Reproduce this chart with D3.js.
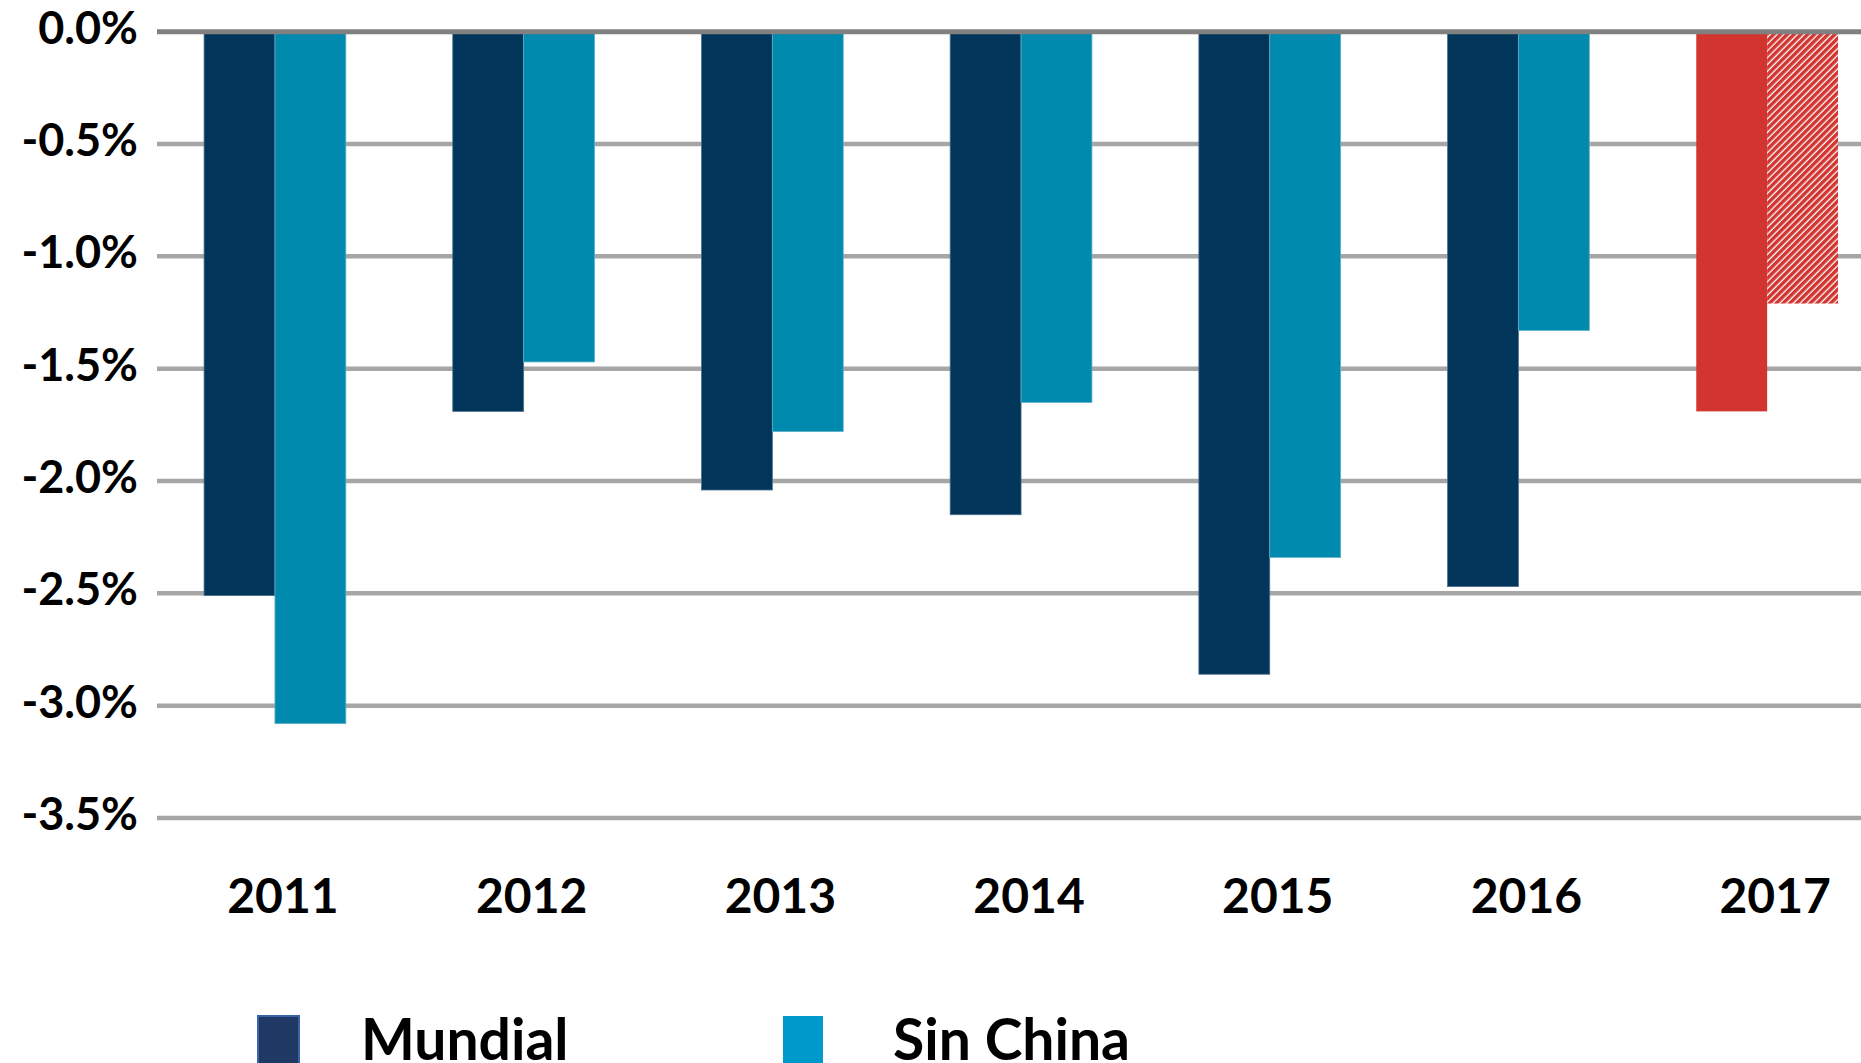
<!DOCTYPE html>
<html>
<head>
<meta charset="utf-8">
<script src="https://cdn.jsdelivr.net/npm/d3@7"></script>
<style>
  body { margin: 0; background: #fff; }
  text { font-family: Lato, "Open Sans", sans-serif; font-weight: bold; fill: #000; }
</style>
</head>
<body>
<div class="chart"></div>
<script>
var years = ['2011', '2012', '2013', '2014', '2015', '2016', '2017'];
var mundial = [-2.51, -1.69, -2.04, -2.15, -2.86, -2.47, -1.69];
var sinChina = [-3.08, -1.47, -1.78, -1.65, -2.34, -1.33, -1.21];
var yTicks = [0, -0.5, -1, -1.5, -2, -2.5, -3, -3.5];
var seriesNames = ['Mundial', 'Sin China'];

var width = 1861;
var height = 1063;
var svg = d3.select('.chart').append('svg').attr('width', width).attr('height', height);

// hatch for the 2017 "Sin China" estimate
var defs = svg.append('defs');
var hatch = defs.append('pattern')
  .attr('id', 'hatch')
  .attr('patternUnits', 'userSpaceOnUse')
  .attr('width', 4.8).attr('height', 4.8)
  .attr('patternTransform', 'rotate(45)');
hatch.append('rect').attr('width', 4.8).attr('height', 4.8).attr('fill', '#fff');
hatch.append('rect').attr('width', 3.5).attr('height', 4.8).attr('fill', '#d2342f');

var y = d3.scaleLinear().domain([0, -3.5]).range([31.7, 818]);
var x = d3.scaleBand().domain(years).range([150.6, 1891.5]).paddingInner(0.43).paddingOuter(0.215);
var xSub = d3.scaleBand().domain(seriesNames).range([0, x.bandwidth()]);

// gridlines
svg.append('g').selectAll('line')
  .data(yTicks.filter(function(d){ return d !== 0; })).enter()
  .append('line')
  .attr('x1', 157).attr('x2', width)
  .attr('y1', function(d){ return y(d); })
  .attr('y2', function(d){ return y(d); })
  .attr('stroke', '#a6a6a6')
  .attr('stroke-width', 4.5);

// y tick labels (plain hyphen, like the original)
svg.append('g').selectAll('text')
  .data(yTicks).enter()
  .append('text')
  .attr('x', 138)
  .attr('y', function(d){ return y(d) + 12; })
  .attr('text-anchor', 'end')
  .attr('font-size', 45)
  .text(function(d){ return d3.format('.1f')(d).replace('\u2212', '-') + '%'; });

function fillFor(s, i) {
  if (years[i] === '2017') return s === 'Mundial' ? '#d2342f' : 'url(#hatch)';
  return s === 'Mundial' ? '#01355a' : '#008aae';
}

var series = [mundial, sinChina];
series.forEach(function(vals, si){
  var name = seriesNames[si];
  svg.append('g').selectAll('rect')
    .data(vals).enter()
    .append('rect')
    .attr('x', function(d, i){ return x(years[i]) + xSub(name); })
    .attr('y', y(0))
    .attr('width', xSub.bandwidth())
    .attr('height', function(d){ return y(d) - y(0); })
    .attr('fill', function(d, i){ return fillFor(name, i); })
    .attr('stroke', function(d, i){
      if (years[i] === '2017') return 'none';
      return name === 'Mundial' ? '#4f7090' : '#5fb0c8';
    })
    .attr('stroke-width', 0.8);
});

// zero line on top
svg.append('line')
  .attr('x1', 157).attr('x2', width)
  .attr('y1', y(0)).attr('y2', y(0))
  .attr('stroke', '#808080')
  .attr('stroke-width', 5);

// year labels, a little right of the bar pairs
svg.append('g').selectAll('text')
  .data(years).enter()
  .append('text')
  .attr('x', function(d){ return x(d) + x.bandwidth() / 2 + 8; })
  .attr('y', 913)
  .attr('text-anchor', 'middle')
  .attr('font-size', 48)
  .text(function(d){ return d; });

// legend
var legend = svg.append('g');
legend.append('rect')
  .attr('x', 258).attr('y', 1016).attr('width', 41).attr('height', 60)
  .attr('fill', '#203864').attr('stroke', '#3a62a8').attr('stroke-width', 2);
legend.append('text').attr('x', 361).attr('y', 1060).attr('font-size', 57).text(seriesNames[0]);
legend.append('rect')
  .attr('x', 783).attr('y', 1016).attr('width', 40).attr('height', 60)
  .attr('fill', '#0099cc');
legend.append('text').attr('x', 893).attr('y', 1060).attr('font-size', 57).text(seriesNames[1]);
</script>
</body>
</html>
